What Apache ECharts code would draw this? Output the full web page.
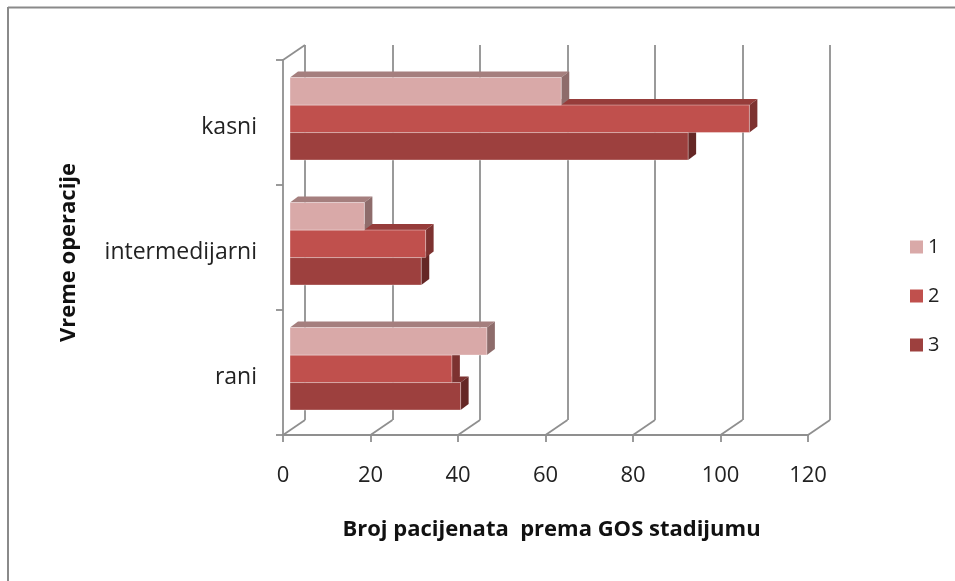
<!DOCTYPE html>
<html>
<head>
<meta charset="utf-8">
<script src="https://cdn.jsdelivr.net/npm/echarts@6/dist/echarts.min.js"></script>
<style>html,body{margin:0;padding:0;background:#fff;}#c{width:955px;height:581px;}</style>
</head>
<body>
<div id="c"></div>
<script>
// ---- data ----
const categories = ['rani', 'intermedijarni', 'kasni'];
const seriesNames = ['1', '2', '3'];
const stage1 = [45, 17, 62];
const stage2 = [37, 31, 105];
const stage3 = [39, 30, 91];
const xTicks = [0, 20, 40, 60, 80, 100, 120];
const xTitle = 'Broj pacijenata  prema GOS stadijumu';
const yTitle = 'Vreme operacije';

// ---- style ----
const FONT = '"Open Sans"';
const LINE = '#8f8f8f';
const palettes = [
  { front: '#D9A9A8', top: '#A57F7E', side: '#8E6C6B' },
  { front: '#C0504D', top: '#963C3A', side: '#7D3230' },
  { front: '#9D403E', top: '#7C3230', side: '#652725' }
];
const BAR_H = 27.5, FDX = 7, FDY = -3.7, DDX = 8, DDY = -6;

function barRenderer(sIdx) {
  return function (params, api) {
    const v = api.value(0), c = api.value(1);
    const p0 = api.coord([0, c]);
    const p1 = api.coord([v, c]);
    const cy = p0[1] + (sIdx - 1) * BAR_H + FDY;
    const x0 = p0[0] + FDX, x1 = p1[0] + FDX;
    const yt = cy - BAR_H / 2, yb = cy + BAR_H / 2;
    const pal = palettes[sIdx];
    return {
      type: 'group',
      children: [
        { type: 'polygon', shape: { points: [[x0, yt], [x1, yt], [x1 + DDX, yt + DDY], [x0 + DDX, yt + DDY]] }, style: { fill: pal.top } },
        { type: 'polygon', shape: { points: [[x1, yt], [x1 + DDX, yt + DDY], [x1 + DDX, yb + DDY], [x1, yb]] }, style: { fill: pal.side } },
        { type: 'rect', shape: { x: x0, y: yt, width: x1 - x0, height: yb - yt }, style: { fill: pal.front, stroke: 'rgba(255,255,255,0.35)', lineWidth: 1 } }
      ]
    };
  };
}

const stages = [stage1, stage2, stage3];
const barSeries = stages.map((arr, i) => ({
  name: seriesNames[i],
  type: 'custom',
  xAxisIndex: 0, yAxisIndex: 0,
  z: 10 - i,
  itemStyle: { color: palettes[i].front },
  renderItem: barRenderer(i),
  encode: { x: 0, y: 1 },
  data: arr.map((v, ci) => [v, ci])
}));

const floorSeries = {
  type: 'custom',
  xAxisIndex: 0, yAxisIndex: 0,
  z: 1,
  silent: true,
  renderItem: function (params, api) {
    const cs = params.coordSys;
    const x = api.coord([api.value(0), 0])[0];
    const yb = cs.y + cs.height;
    const children = [
      { type: 'line', shape: { x1: x, y1: yb, x2: x + 22, y2: yb - 15 }, style: { stroke: LINE, lineWidth: 1.8 } }
    ];
    if (params.dataIndex === 0) {
      children.push({ type: 'line', shape: { x1: x, y1: cs.y, x2: x + 22, y2: cs.y - 15 }, style: { stroke: LINE, lineWidth: 1.8 } });
    }
    return { type: 'group', children: children };
  },
  encode: { x: 0, y: 1 },
  data: xTicks.map(v => [v, 0])
};

const option = {
  animation: false,
  backgroundColor: '#fff',
  textStyle: { fontFamily: FONT },
  graphic: [
    { type: 'line', shape: { x1: 8, y1: 7.5, x2: 955, y2: 7.5 }, style: { stroke: '#8a8a8a', lineWidth: 2 } },
    { type: 'line', shape: { x1: 8, y1: 7, x2: 8, y2: 581 }, style: { stroke: '#8a8a8a', lineWidth: 2 } }
  ],
  legend: {
    orient: 'vertical',
    left: 905, top: 232,
    itemWidth: 13, itemHeight: 13, itemGap: 29,
    icon: 'rect',
    data: seriesNames,
    textStyle: { fontFamily: FONT, fontSize: 20, color: '#222' }
  },
  grid: [
    { left: 283, right: 147, top: 60, bottom: 146 },
    { left: 305, right: 125, top: 45, bottom: 161 }
  ],
  xAxis: [
    {
      gridIndex: 0, type: 'value', min: 0, max: 120, interval: 20,
      axisLine: { show: true, lineStyle: { color: LINE, width: 1.8 } },
      axisTick: { show: true, length: 7, lineStyle: { color: LINE, width: 1.8 } },
      splitLine: { show: false },
      axisLabel: { fontFamily: FONT, fontSize: 22, color: '#222', margin: 30 },
      name: xTitle, nameLocation: 'middle', nameGap: 84,
      nameTextStyle: { fontFamily: FONT, fontSize: 22, fontWeight: 'bold', color: '#111', padding: [0, 0, 0, 12] }
    },
    {
      gridIndex: 1, type: 'value', min: 0, max: 120, interval: 20,
      axisLine: { show: false }, axisTick: { show: false }, axisLabel: { show: false },
      splitLine: { show: true, showMinLine: true, showMaxLine: true, lineStyle: { color: LINE, width: 1.8 } }
    }
  ],
  yAxis: [
    {
      gridIndex: 0, type: 'category', data: categories,
      axisLine: { show: true, lineStyle: { color: LINE, width: 1.8 } },
      axisTick: { show: true, length: 7, lineStyle: { color: LINE, width: 1.8 } },
      axisLabel: {
        margin: 26,
        formatter: '{a|{value}}',
        rich: { a: { fontFamily: FONT, fontSize: 23, color: '#222', padding: [10, 0, 0, 0] } }
      },
      name: yTitle, nameLocation: 'middle', nameGap: 203, nameRotate: 90,
      nameTextStyle: { fontFamily: FONT, fontSize: 22, fontWeight: 'bold', color: '#111', padding: [0, 10, 0, 0] }
    },
    {
      gridIndex: 1, type: 'category', data: categories, show: false
    }
  ],
  series: [floorSeries].concat(barSeries)
};

const chart = echarts.init(document.getElementById('c'), null, { renderer: 'canvas' });
chart.setOption(option);
</script>
</body>
</html>
